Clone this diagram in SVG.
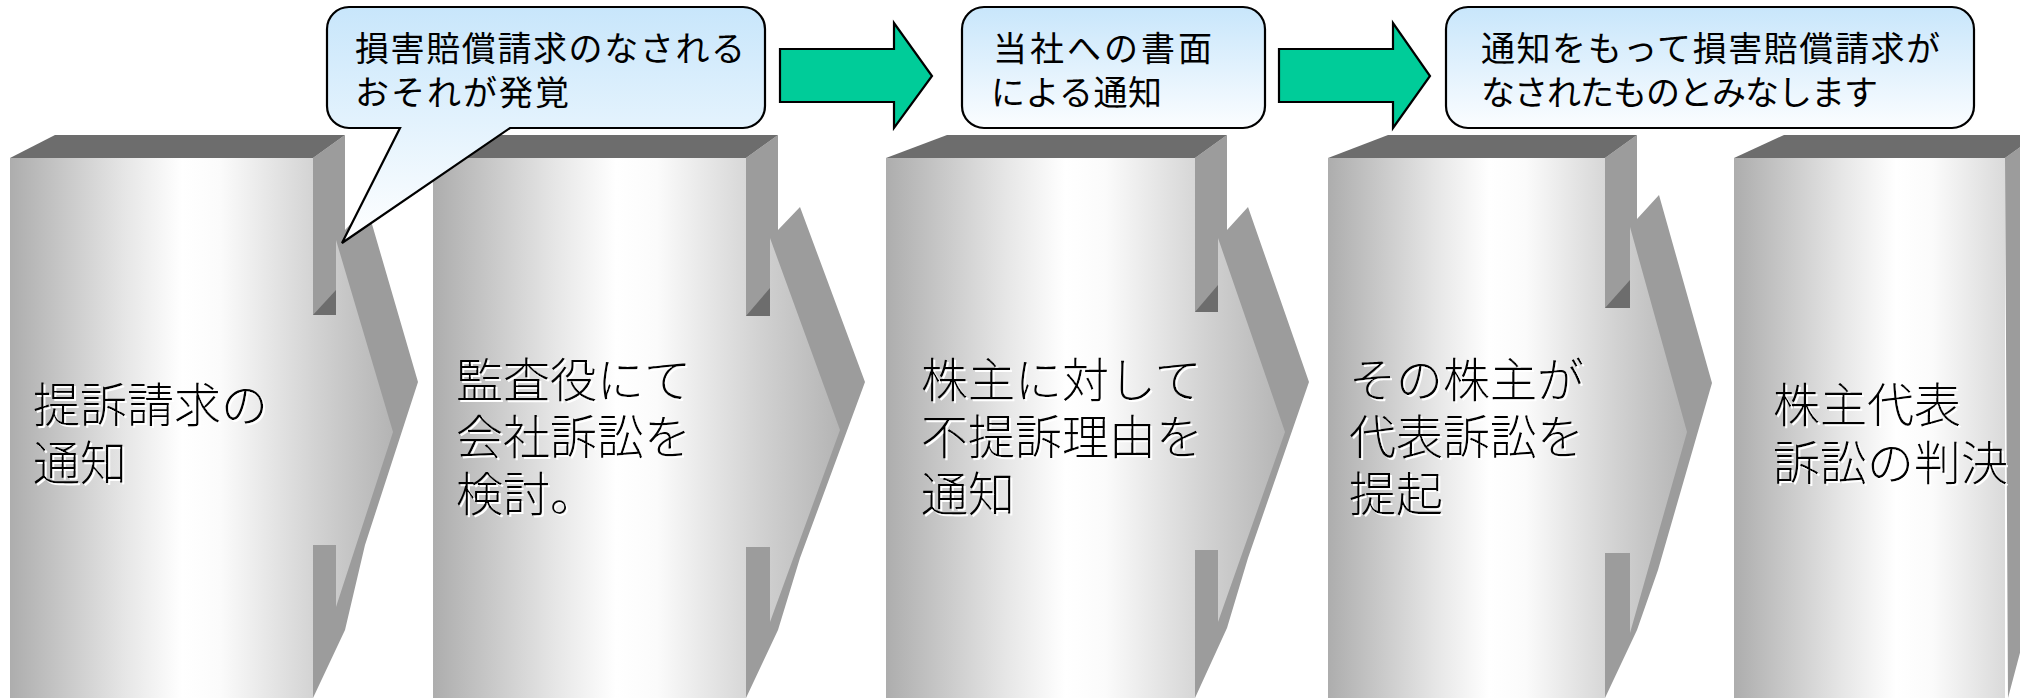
<svg xmlns="http://www.w3.org/2000/svg" xmlns:xlink="http://www.w3.org/1999/xlink" width="2020" height="698" viewBox="0 0 2020 698">
<defs>
<linearGradient id="gbase">
<stop offset="0" stop-color="#adadad"/>
<stop offset="0.3" stop-color="#e6e6e6"/>
<stop offset="0.45" stop-color="#ffffff"/>
<stop offset="0.55" stop-color="#fbfbfb"/>
<stop offset="0.8" stop-color="#d2d2d2"/>
<stop offset="1" stop-color="#b4b4b4"/>
</linearGradient>
<linearGradient id="g1" href="#gbase" xlink:href="#gbase" gradientUnits="userSpaceOnUse" x1="10" y1="0" x2="393" y2="0"/>
<linearGradient id="g2" href="#gbase" xlink:href="#gbase" gradientUnits="userSpaceOnUse" x1="433" y1="0" x2="840" y2="0"/>
<linearGradient id="g3" href="#gbase" xlink:href="#gbase" gradientUnits="userSpaceOnUse" x1="886" y1="0" x2="1285" y2="0"/>
<linearGradient id="g4" href="#gbase" xlink:href="#gbase" gradientUnits="userSpaceOnUse" x1="1328" y1="0" x2="1687" y2="0"/>
<linearGradient id="g5" href="#gbase" xlink:href="#gbase" gradientUnits="userSpaceOnUse" x1="1734" y1="0" x2="2094" y2="0"/>
<linearGradient id="cg" x1="0" y1="0" x2="0" y2="1">
<stop offset="0" stop-color="#c8e6fb"/>
<stop offset="1" stop-color="#ffffff"/>
</linearGradient>
<linearGradient id="cg2" x1="0" y1="0" x2="0" y2="1">
<stop offset="0" stop-color="#c8e6fb"/>
<stop offset="1" stop-color="#fbfdff"/>
</linearGradient>
<filter id="wsh" x="-5%" y="-10%" width="110%" height="130%">
<feFlood flood-color="#ffffff" result="w"/>
<feComposite in="w" in2="SourceAlpha" operator="in" result="wa"/>
<feOffset in="wa" dx="2" dy="2" result="wo"/>
<feMerge><feMergeNode in="wo"/><feMergeNode in="SourceGraphic"/></feMerge>
</filter>
</defs>
<style>
.side{fill:#9c9c9c;}
.top{fill:#6d6d6d;}
.dark{fill:#6d6d6d;}
.callout{stroke:#000;stroke-width:2.2;}
.garrow{fill:#00cc99;stroke:#000;stroke-width:2.2;stroke-linejoin:miter;}
.ct{font-family:"Noto Sans CJK JP","Noto Sans CJK SC",sans-serif;font-size:34px;fill:#000;}
.bt{font-family:"Noto Sans CJK JP","Noto Sans CJK SC",sans-serif;font-size:47px;font-weight:300;fill:#000;filter:url(#wsh);}
</style>
<rect width="2020" height="698" fill="#fff"/>

<g id="step1">
<polygon class="side" points="313,158 345,135 345,230 367,207 418,382 365,545 345,630 313,698"/>
<polygon fill="url(#g1)" points="313,315 336,315 336,240 393,432 336,607 336,545 313,545"/>
<polygon class="dark" points="313,315 336,315 336,290"/>
<rect x="10" y="158" width="303" height="540" fill="url(#g1)"/>
<polygon class="top" points="10,158 313,158 345,135 55,135"/>
<text class="bt"><tspan x="33" y="422">提訴請求の</tspan><tspan x="33" y="480">通知</tspan></text>
</g>

<g id="step2">
<polygon class="side" points="746,158 778,135 778,230 800,207 865,382 800,558 778,630 746,698"/>
<polygon fill="url(#g2)" points="746,316 770,316 770,238 840,430 770,622 770,547 746,547"/>
<polygon class="dark" points="746,316 770,316 770,288"/>
<rect x="433" y="158" width="313" height="540" fill="url(#g2)"/>
<polygon class="top" points="433,158 746,158 778,135 483,135"/>
<text class="bt"><tspan x="456" y="397">監査役にて</tspan><tspan x="456" y="454">会社訴訟を</tspan><tspan x="456" y="511">検討。</tspan></text>
</g>

<g id="step3">
<polygon class="side" points="1195,158 1227,135 1227,230 1248,207 1309,382 1248,558 1227,628 1195,698"/>
<polygon fill="url(#g3)" points="1195,312 1218,312 1218,238 1285,432 1218,622 1218,550 1195,550"/>
<polygon class="dark" points="1195,312 1218,312 1218,285"/>
<rect x="886" y="158" width="309" height="540" fill="url(#g3)"/>
<polygon class="top" points="886,158 1195,158 1227,135 947,135"/>
<text class="bt"><tspan x="921" y="397">株主に対して</tspan><tspan x="921" y="454">不提訴理由を</tspan><tspan x="921" y="511">通知</tspan></text>
</g>

<g id="step4">
<polygon class="side" points="1605,158 1637,135 1637,219 1659,195 1712,383 1658,570 1637,630 1605,698"/>
<polygon fill="url(#g4)" points="1605,308 1630,308 1630,227 1687,432 1630,633 1630,553 1605,553"/>
<polygon class="dark" points="1605,308 1630,308 1630,280"/>
<rect x="1328" y="158" width="277" height="540" fill="url(#g4)"/>
<polygon class="top" points="1328,158 1605,158 1637,135 1388,135"/>
<text class="bt"><tspan x="1349" y="397">その株主が</tspan><tspan x="1349" y="454">代表訴訟を</tspan><tspan x="1349" y="511">提起</tspan></text>
</g>

<g id="step5">
<polygon class="side" points="2005,158 2037,135 2037,600 2026,630 2008,698"/>
<rect x="1734" y="158" width="271" height="540" fill="url(#g5)"/>
<polygon class="top" points="1734,158 2005,158 2037,135 1784,135"/>
<text class="bt"><tspan x="1773" y="422">株主代表</tspan><tspan x="1773" y="480">訴訟の判決</tspan></text>
</g>

<g id="connectors">
<path class="garrow" d="M780,49 H894 V23 L932,76 L894,128 V102 H780 Z"/>
<path class="garrow" d="M1279,49 H1393 V23 L1430,76 L1393,128 V102 H1279 Z"/>
</g>

<g id="callout1">
<path class="callout" fill="url(#cg)" d="M349,7 H743 A22,22 0 0 1 765,29 V106 A22,22 0 0 1 743,128 H510 L342,243 L400,128 H349 A22,22 0 0 1 327,106 V29 A22,22 0 0 1 349,7 Z"/>
<text class="ct"><tspan x="355" y="61" textLength="390" lengthAdjust="spacing">損害賠償請求のなされる</tspan><tspan x="355" y="105" textLength="214" lengthAdjust="spacing">おそれが発覚</tspan></text>
</g>

<g id="callout2">
<rect class="callout" fill="url(#cg2)" x="962" y="7" width="303" height="121" rx="22" ry="22"/>
<text class="ct"><tspan x="993" y="61" textLength="219" lengthAdjust="spacing">当社への書面</tspan><tspan x="991" y="105" textLength="171" lengthAdjust="spacing">による通知</tspan></text>
</g>

<g id="callout3">
<rect class="callout" fill="url(#cg2)" x="1446" y="7" width="528" height="121" rx="22" ry="22"/>
<text class="ct"><tspan x="1481" y="61" textLength="459" lengthAdjust="spacing">通知をもって損害賠償請求が</tspan><tspan x="1481" y="105" textLength="397" lengthAdjust="spacing">なされたものとみなします</tspan></text>
</g>
</svg>
